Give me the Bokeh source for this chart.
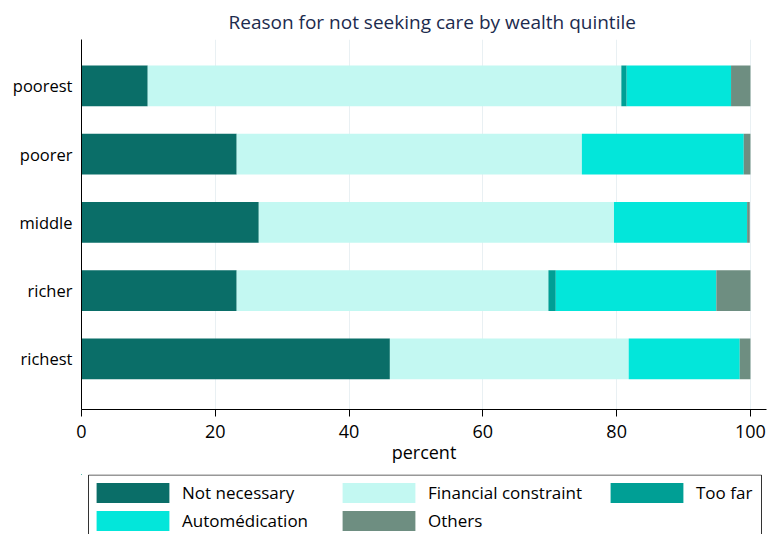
from bokeh.plotting import figure
from bokeh.models import ColumnDataSource, Range1d, FixedTicker, Legend
from bokeh.layouts import column
from bokeh.embed import file_html
from bokeh.resources import INLINE

quintiles = ["poorest", "poorer", "middle", "richer", "richest"]
not_necessary = [9.9, 23.2, 26.5, 23.2, 46.1]
financial = [70.8, 51.6, 53.1, 46.6, 35.7]
too_far = [0.8, 0.0, 0.0, 1.1, 0.0]
automedication = [15.6, 24.2, 19.9, 24.0, 16.6]
others = [2.9, 1.0, 0.4, 5.1, 1.6]

series = ["nn", "fin", "far", "auto", "oth"]
labels = ["Not necessary", "Financial constraint", "Too far", "Automédication", "Others"]
colors = ["#0a6e68", "#c3f8f2", "#009f95", "#03e6da", "#6e8e81"]
x_ticks = [0, 20, 40, 60, 80, 100]

ypos = [5, 4, 3, 2, 1]
src = ColumnDataSource(dict(y=ypos, nn=not_necessary, fin=financial, far=too_far,
                            auto=automedication, oth=others))

FONT = "Open Sans"

p = figure(width=768, height=474, output_backend="svg", toolbar_location=None,
           x_range=Range1d(0, 102.4), y_range=Range1d(0.258, 5.68),
           title="Reason for not seeking care by wealth quintile")
p.min_border_left = 81
p.min_border_right = 2
p.min_border_top = 39
p.min_border_bottom = 65
p.outline_line_color = None

p.hbar_stack(series, y="y", height=0.595, color=colors, source=src, line_color=None)

p.title.align = "left"
p.title.offset = 147
p.title.text_font = FONT
p.title.text_font_size = "19px"
p.title.text_font_style = "normal"
p.title.text_color = "#1c2b4e"

p.ygrid.visible = False
p.xgrid.grid_line_color = "#e9f0f3"
p.xgrid.ticker = FixedTicker(ticks=x_ticks)

p.xaxis.ticker = FixedTicker(ticks=x_ticks)
p.xaxis.axis_label = "percent"
p.xaxis.axis_label_text_font = FONT
p.xaxis.axis_label_text_font_size = "18px"
p.xaxis.axis_label_text_font_style = "normal"
p.xaxis.axis_label_text_color = "black"
p.xaxis.axis_label_standoff = -1
p.xaxis.major_label_text_font = FONT
p.xaxis.major_label_text_font_size = "18px"
p.xaxis.major_label_text_color = "black"
p.xaxis.major_label_standoff = 8
p.xaxis.major_tick_out = 7
p.xaxis.major_tick_in = 0
p.xaxis.minor_tick_line_color = None
p.xaxis.axis_line_color = "black"
p.xaxis.major_tick_line_color = "black"

p.yaxis.ticker = FixedTicker(ticks=ypos)
p.yaxis.major_label_overrides = {y: q for y, q in zip(ypos, quintiles)}
p.yaxis.major_label_text_font = FONT
p.yaxis.major_label_text_font_size = "16.5px"
p.yaxis.major_label_text_color = "black"
p.yaxis.major_tick_line_color = None
p.yaxis.minor_tick_line_color = None
p.yaxis.major_label_standoff = 3
p.yaxis.axis_line_color = "black"

# legend strip below the chart; its frame is aligned with the chart's frame.
# Its ranges are page pixels shifted by 1000 so that the swatch-feeding bars
# stay far outside the strip's view.
OFF = 1000
lf = figure(width=768, height=60, output_backend="svg", toolbar_location=None,
            x_range=Range1d(OFF + 81, OFF + 766), y_range=Range1d(OFF + 534, OFF + 474),
            x_axis_type=None, y_axis_type=None)
lf.min_border = 0
lf.min_border_left = 81
lf.min_border_right = 2
lf.outline_line_color = None
lf.xgrid.visible = False
lf.ygrid.visible = False
leg_renderers = lf.hbar_stack(series, y="y", height=0.595, color=colors, source=src, line_color=None)

# legend frame (bottom edge falls outside the window, as in the reference)
lf.quad(left=[OFF + 88], right=[OFF + 761], top=[OFF + 474.5], bottom=[OFF + 600],
        fill_color=None, line_color="#333333", line_width=1)


def make_legend(idx, loc):
    lg = Legend(items=[(labels[i], [leg_renderers[i]]) for i in idx], location=loc,
                orientation="vertical")
    lg.glyph_width = 91
    lg.glyph_height = 25
    lg.label_standoff = 4
    lg.spacing = 3
    lg.padding = 0
    lg.margin = 0
    lg.label_text_font = FONT
    lg.label_text_font_size = "17px"
    lg.label_text_color = "black"
    lg.border_line_color = None
    lg.background_fill_alpha = 0.0
    return lg


lf.add_layout(make_legend([0, 3], (6, 1)))
lf.add_layout(make_legend([1, 4], (252, 1)))
lf.add_layout(make_legend([2], (520, 29)))

layout = column(p, lf, spacing=0)
open("out.html", "w").write(file_html(layout, INLINE))
